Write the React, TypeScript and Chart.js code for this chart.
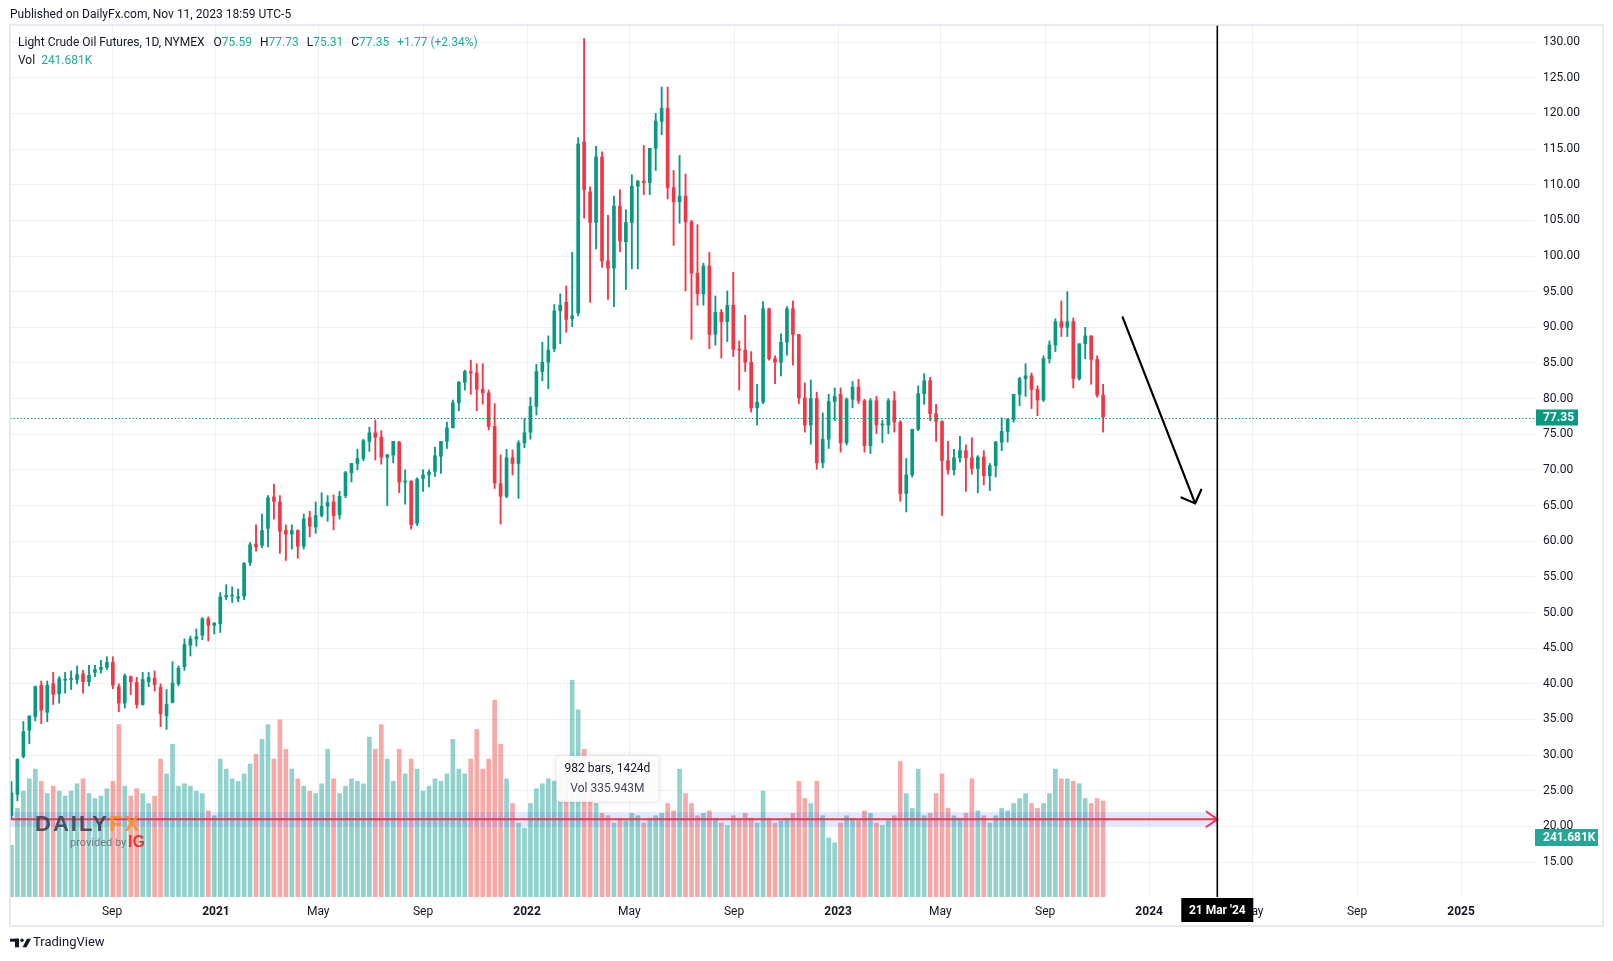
import React, { useEffect, useRef } from 'react';
import { Chart, registerables } from 'chart.js';

Chart.register(...registerables);

const FONT = 'Roboto, "Noto Sans", "DejaVu Sans", sans-serif';

// x values are day numbers counted from 2020-01-01
const FIRST_WEEK_DAY = 126; // Wed 6 May 2020, one candle per week
const X_MIN_DAY = 124.3;
const X_MAX_DAY = 1913.8;
const PRICE_MIN = 10.1;
const PRICE_MAX = 132.4;
const VOLUME_AXIS_MAX_K = 3542;

const xTickDays = [244, 366, 486, 609, 731, 851, 974, 1096, 1216, 1339, 1461, 1582, 1705, 1827];
const xTickLabels = ['Sep', '2021', 'May', 'Sep', '2022', 'May', 'Sep', '2023', 'May', 'Sep', '2024', 'May', 'Sep', '2025'];

// weekly [open, high, low, close]
const candles2020 = [
  [21.5, 26.3, 21.0, 24.7], [24.5, 29.5, 23.6, 29.4], [29.8, 34.7, 29.6, 33.3], [33.5, 35.5, 31.6, 35.5],
  [35.4, 39.7, 34.8, 39.6], [39.8, 40.4, 34.4, 36.3], [36.0, 40.4, 34.7, 39.8], [40.0, 41.6, 37.1, 38.5],
  [38.6, 41.0, 37.3, 40.7], [40.5, 41.6, 38.7, 40.6], [40.6, 41.8, 39.2, 40.6], [40.6, 42.5, 40.0, 41.3],
  [41.4, 41.9, 38.7, 40.3], [40.3, 42.6, 39.7, 41.2], [41.6, 42.6, 41.0, 42.0], [42.0, 43.3, 41.5, 42.3],
  [42.3, 43.8, 42.0, 43.0], [43.0, 43.8, 39.3, 39.8], [39.6, 40.0, 36.1, 37.3], [37.3, 41.4, 36.6, 41.1],
  [41.0, 41.1, 38.5, 40.3], [40.2, 40.9, 36.6, 37.1], [37.1, 41.6, 37.0, 40.6], [40.3, 41.6, 39.6, 40.9],
  [40.8, 41.8, 39.0, 39.9], [39.5, 40.0, 34.0, 35.8], [35.5, 39.2, 33.6, 37.1], [37.4, 43.1, 37.3, 40.1],
  [40.0, 42.5, 39.7, 42.2], [42.4, 46.3, 41.9, 45.5], [45.4, 46.7, 43.9, 46.3], [46.3, 47.7, 45.3, 46.6],
  [46.8, 49.3, 46.2, 49.1], [49.1, 49.4, 46.0, 48.2], [48.2, 48.6, 47.0, 48.5],
];
const candles2021 = [
  [48.4, 52.8, 47.2, 52.2], [52.2, 53.9, 51.8, 52.4], [52.3, 53.6, 51.4, 52.3], [52.0, 53.3, 51.5, 52.2],
  [52.3, 57.0, 51.8, 56.9], [57.0, 59.8, 56.6, 59.5], [59.6, 62.3, 58.6, 59.2], [59.4, 63.8, 59.1, 61.5],
  [61.8, 66.4, 59.2, 66.1], [66.2, 68.0, 63.1, 65.6], [65.5, 66.4, 58.3, 61.4], [61.5, 62.3, 57.3, 61.0],
  [61.0, 62.3, 58.9, 61.5], [61.5, 61.6, 57.6, 59.3], [59.3, 63.8, 58.9, 63.1], [63.3, 64.2, 60.6, 62.1],
  [62.0, 65.5, 61.1, 63.6], [63.6, 66.8, 63.4, 64.9], [64.9, 66.4, 62.8, 65.4], [65.5, 66.5, 61.6, 63.6],
  [63.7, 67.0, 63.1, 66.3], [66.4, 69.8, 66.1, 69.6], [69.6, 70.9, 68.3, 70.9], [70.9, 72.9, 70.0, 71.6],
  [71.6, 74.3, 71.3, 74.1], [74.0, 76.0, 72.6, 75.2], [75.2, 77.0, 71.4, 74.6], [74.6, 75.5, 70.8, 71.8],
  [71.8, 72.2, 65.0, 72.1], [72.1, 74.0, 71.0, 74.0], [73.9, 74.0, 66.8, 68.3], [68.3, 70.0, 65.2, 68.4],
  [68.4, 68.5, 61.7, 62.3], [62.5, 68.9, 62.2, 68.7], [68.8, 70.0, 67.0, 69.3], [69.3, 70.0, 67.6, 69.7],
  [69.8, 73.2, 69.1, 72.0], [71.9, 74.0, 69.5, 74.0], [74.0, 76.7, 73.0, 75.9], [75.9, 79.8, 75.9, 79.4],
  [79.4, 82.4, 78.3, 82.3], [82.3, 84.0, 81.2, 83.8], [83.8, 85.4, 80.6, 83.6], [83.6, 84.9, 78.3, 81.3],
  [81.3, 84.9, 79.2, 80.8], [80.8, 81.2, 75.6, 76.1], [76.1, 79.3, 67.4, 68.2], [68.1, 72.1, 62.4, 66.3],
  [66.3, 72.9, 66.1, 71.7], [71.7, 72.8, 69.3, 70.9], [70.9, 74.1, 66.0, 73.8], [73.8, 77.2, 73.1, 75.2],
];
const candles2022 = [
  [75.3, 80.2, 74.3, 78.9], [78.9, 84.8, 77.7, 83.8], [83.8, 87.9, 82.5, 85.1], [85.1, 88.8, 81.4, 86.8],
  [87.0, 93.2, 86.6, 92.3], [92.3, 94.7, 87.7, 93.1], [93.5, 95.8, 89.3, 91.1], [91.2, 100.5, 90.1, 91.6],
  [92.0, 116.6, 91.6, 115.7], [116.0, 130.5, 105.3, 109.3], [109.0, 109.7, 93.5, 104.7], [104.7, 115.4, 101.0, 113.9],
  [113.9, 114.6, 98.4, 99.3], [99.3, 105.7, 93.9, 98.3], [98.3, 108.4, 92.9, 107.0], [107.0, 109.3, 100.6, 102.1],
  [102.0, 106.5, 95.3, 104.7], [104.7, 111.4, 98.2, 109.8], [109.8, 110.6, 98.2, 110.5], [110.5, 115.5, 108.6, 110.3],
  [110.3, 115.1, 108.6, 115.1], [115.1, 120.0, 112.0, 118.9], [118.9, 123.7, 117.0, 120.7], [120.7, 123.7, 108.0, 109.6],
  [109.6, 112.0, 101.5, 107.6], [107.6, 114.1, 104.6, 108.4], [108.4, 111.5, 95.1, 104.8], [104.8, 105.0, 88.3, 97.6],
  [97.6, 104.4, 93.1, 94.7], [94.7, 99.0, 93.1, 98.6], [98.6, 100.5, 87.0, 89.0], [89.0, 94.4, 87.5, 92.1],
  [92.1, 92.5, 85.7, 90.8], [90.8, 95.1, 88.0, 93.1], [93.1, 97.7, 85.9, 86.9], [86.9, 88.1, 81.2, 86.8],
  [86.8, 91.7, 83.8, 85.1], [85.1, 86.6, 78.1, 78.7], [78.7, 82.0, 76.3, 79.5], [79.5, 93.6, 79.3, 92.6],
  [92.6, 92.7, 85.4, 85.6], [85.6, 86.0, 82.1, 85.1], [85.1, 89.1, 83.2, 87.9], [87.9, 92.9, 86.1, 92.6],
  [92.6, 93.7, 84.7, 89.0], [89.0, 89.0, 79.3, 80.1], [80.1, 82.2, 75.3, 76.3], [76.3, 82.6, 73.6, 80.0],
  [80.0, 80.9, 70.1, 71.0], [71.0, 78.0, 70.3, 74.3], [74.3, 80.6, 73.0, 79.6], [79.6, 81.5, 76.9, 80.3],
];
const candles2023 = [
  [80.6, 81.5, 72.5, 73.8], [73.8, 80.1, 73.5, 79.9], [79.9, 82.4, 78.7, 81.6], [81.6, 82.7, 79.3, 79.7],
  [79.7, 79.9, 72.5, 73.4], [73.4, 80.0, 72.3, 79.7], [79.7, 80.3, 75.1, 76.3], [76.3, 77.0, 73.8, 76.3],
  [76.3, 80.0, 75.1, 79.7], [79.7, 81.0, 75.3, 76.7], [76.7, 76.9, 65.6, 66.7], [66.7, 71.6, 64.1, 69.3],
  [69.3, 75.7, 69.0, 75.7], [75.7, 81.8, 75.5, 80.7], [80.7, 83.5, 79.2, 82.5], [82.5, 83.0, 76.9, 77.9],
  [77.9, 79.2, 74.0, 76.8], [76.8, 76.9, 63.6, 71.3], [71.3, 74.0, 69.4, 70.0], [70.0, 72.9, 69.3, 71.7],
  [71.7, 74.7, 71.1, 72.7], [72.7, 73.5, 67.0, 71.7], [71.7, 74.5, 69.4, 70.2], [70.2, 72.0, 66.8, 71.8],
  [71.8, 72.7, 67.9, 69.2], [69.2, 70.9, 67.1, 70.6], [70.6, 74.0, 69.0, 73.9], [73.9, 77.3, 72.7, 75.4],
  [75.4, 77.2, 73.9, 77.1], [77.1, 80.6, 76.7, 80.6], [80.6, 83.0, 79.0, 82.8], [82.8, 84.9, 80.3, 83.2],
  [83.2, 83.6, 78.6, 81.3], [81.3, 81.8, 77.6, 79.8], [79.8, 86.0, 79.6, 85.6], [85.6, 88.1, 85.0, 87.5],
  [87.5, 91.2, 86.6, 90.8], [90.8, 93.7, 88.7, 90.0], [90.0, 95.0, 88.7, 90.8], [90.8, 91.3, 81.5, 82.8],
  [82.8, 87.7, 82.6, 87.7], [87.7, 90.0, 85.6, 88.8], [88.8, 88.8, 82.0, 85.5], [85.5, 86.0, 80.2, 80.5],
  [80.5, 82.0, 75.3, 77.4],
];

// representative daily volume of each week, in thousands of contracts
const volumes2020 = [210, 360, 430, 480, 520, 470, 420, 450, 430, 410, 430, 460, 480, 420, 400, 410, 440, 470, 700, 450, 410, 440, 420, 380, 410, 560, 500, 620, 450, 460, 450, 430, 420, 350, 330];
const volumes2021 = [560, 520, 480, 470, 500, 540, 580, 640, 700, 560, 720, 600, 520, 480, 450, 430, 420, 460, 600, 480, 420, 450, 480, 470, 460, 650, 600, 700, 560, 470, 600, 500, 560, 520, 430, 450, 480, 470, 500, 640, 520, 500, 560, 680, 520, 560, 800, 620, 480, 380, 300, 280];
const volumes2022 = [380, 440, 460, 480, 470, 500, 520, 880, 760, 600, 420, 380, 340, 330, 300, 320, 310, 340, 330, 300, 320, 330, 340, 380, 350, 520, 420, 380, 330, 340, 350, 320, 300, 290, 330, 320, 340, 320, 300, 430, 320, 300, 310, 320, 340, 470, 400, 380, 470, 330, 240, 220];
const volumes2023 = [300, 330, 320, 310, 350, 340, 300, 290, 310, 330, 550, 420, 360, 520, 330, 340, 420, 500, 360, 330, 320, 340, 480, 350, 330, 300, 330, 360, 350, 380, 400, 420, 380, 360, 380, 420, 520, 480, 480, 470, 460, 400, 380, 400, 390];

const publishedText = 'Published on DailyFx.com, Nov 11, 2023 18:59 UTC-5';
const legendSymbol = 'Light Crude Oil Futures, 1D, NYMEX';
const legendOHLC = [['O', '75.59'], ['H', '77.73'], ['L', '75.31'], ['C', '77.35']];
const legendChange = '+1.77 (+2.34%)';
const legendVolume = '241.681K';
const lastPrice = 77.35;
const lastVolumeK = 241.681;
const markerDay = 1541;
const markerLabel = "21 Mar '24";
const trendArrowFrom = { day: 1430, price: 91.4 };
const trendArrowTo = { day: 1515, price: 65.3 };
const rangeBandPrices = [20.0, 22.0];
const rangeLinePrice = 21.0;
const measureLabelPos = { day: 825.4, price: 26.7 };
const measureLines = ['982 bars, 1424d', 'Vol 335.943M'];

const allCandles = [...candles2020, ...candles2021, ...candles2022, ...candles2023];
const allVolumes = [...volumes2020, ...volumes2021, ...volumes2022, ...volumes2023];
const weekDays = allCandles.map((_, i) => FIRST_WEEK_DAY + 7 * i);
const isUp = allCandles.map((c) => c[3] >= c[0]);

const UP = '#089981';
const DOWN = '#f23645';
const GRID = '#eef0f3';
const TEXT = '#131722';

const overlayPlugin = {
  id: 'tvOverlay',
  beforeDraw(chart: any) {
    const { ctx, width, height } = chart;
    ctx.save();
    ctx.fillStyle = '#ffffff';
    ctx.fillRect(0, 0, width, height);
    ctx.restore();
  },
  afterDatasetsDraw(chart: any) {
    const { ctx, chartArea } = chart;
    const xs = chart.scales.x;
    const ys = chart.scales.y;
    const L = chartArea.left;
    const R = chartArea.right;
    ctx.save();
    ctx.beginPath();
    ctx.rect(chartArea.left, chartArea.top, chartArea.right - chartArea.left, chartArea.bottom - chartArea.top);
    ctx.clip();

    // last price dotted line
    const py = Math.round(ys.getPixelForValue(lastPrice)) + 0.5;
    ctx.strokeStyle = UP;
    ctx.lineWidth = 1.2;
    ctx.setLineDash([1.5, 2]);
    ctx.beginPath();
    ctx.moveTo(L, py);
    ctx.lineTo(R, py);
    ctx.stroke();
    ctx.setLineDash([]);

    // range band + red line with arrow
    const mx = xs.getPixelForValue(markerDay);
    const bTop = ys.getPixelForValue(rangeBandPrices[1]);
    const bBot = ys.getPixelForValue(rangeBandPrices[0]);
    ctx.fillStyle = 'rgba(41, 98, 255, 0.15)';
    ctx.fillRect(L, bTop, mx - L, bBot - bTop);
    const ry = ys.getPixelForValue(rangeLinePrice);
    ctx.strokeStyle = '#f23645';
    ctx.lineWidth = 2;
    ctx.beginPath();
    ctx.moveTo(L, ry);
    ctx.lineTo(mx, ry);
    ctx.moveTo(mx - 11.5, ry - 8);
    ctx.lineTo(mx, ry);
    ctx.lineTo(mx - 11.5, ry + 8);
    ctx.stroke();

    // DailyFX watermark
    ctx.globalAlpha = 0.88;
    ctx.textBaseline = 'middle';
    ctx.textAlign = 'left';
    ctx.font = `bold 22px "Liberation Sans", ${FONT}`;
    (ctx as any).letterSpacing = '2px';
    const wx = L + 25;
    const wy = chartArea.bottom - 72;
    ctx.fillStyle = '#3b4150';
    ctx.fillText('DAILY', wx, wy);
    const dw = ctx.measureText('DAILY').width;
    ctx.fillStyle = '#f7931e';
    ctx.fillText('FX', wx + dw, wy);
    (ctx as any).letterSpacing = '0px';
    ctx.font = `11px ${FONT}`;
    ctx.fillStyle = '#6a6d78';
    ctx.fillText('provided by', L + 60, chartArea.bottom - 54);
    ctx.font = `bold 16px "Liberation Sans", ${FONT}`;
    ctx.fillStyle = '#e1251b';
    ctx.fillText('IG', L + 118, chartArea.bottom - 54);
    ctx.globalAlpha = 1;

    // vertical marker line
    ctx.strokeStyle = '#000000';
    ctx.lineWidth = 1.6;
    ctx.beginPath();
    ctx.moveTo(mx, chartArea.top);
    ctx.lineTo(mx, chartArea.bottom);
    ctx.stroke();

    // trend arrow
    const ax1 = xs.getPixelForValue(trendArrowFrom.day);
    const ay1 = ys.getPixelForValue(trendArrowFrom.price);
    const ax2 = xs.getPixelForValue(trendArrowTo.day);
    const ay2 = ys.getPixelForValue(trendArrowTo.price);
    const ang = Math.atan2(ay2 - ay1, ax2 - ax1);
    const hl = 15;
    ctx.lineWidth = 2.2;
    ctx.lineCap = 'round';
    ctx.beginPath();
    ctx.moveTo(ax1, ay1);
    ctx.lineTo(ax2, ay2);
    ctx.moveTo(ax2 + hl * Math.cos(ang + Math.PI - Math.PI / 4), ay2 + hl * Math.sin(ang + Math.PI - Math.PI / 4));
    ctx.lineTo(ax2, ay2);
    ctx.lineTo(ax2 + hl * Math.cos(ang + Math.PI + Math.PI / 4), ay2 + hl * Math.sin(ang + Math.PI + Math.PI / 4));
    ctx.stroke();

    // measurement label
    const lx = xs.getPixelForValue(measureLabelPos.day);
    const ly = ys.getPixelForValue(measureLabelPos.price);
    const bw = 102;
    const bh = 46;
    ctx.shadowColor = 'rgba(0,0,0,0.18)';
    ctx.shadowBlur = 5;
    ctx.fillStyle = 'rgba(255,255,255,0.93)';
    ctx.beginPath();
    (ctx as any).roundRect(lx - bw / 2, ly - bh / 2, bw, bh, 4);
    ctx.fill();
    ctx.shadowBlur = 0;
    ctx.shadowColor = 'transparent';
    ctx.textAlign = 'center';
    ctx.font = `12px ${FONT}`;
    ctx.fillStyle = TEXT;
    ctx.fillText(measureLines[0], lx, ly - 10);
    ctx.fillStyle = '#434651';
    ctx.fillText(measureLines[1], lx, ly + 10);
    ctx.restore();
  },
  afterDraw(chart: any) {
    const { ctx, chartArea } = chart;
    const xs = chart.scales.x;
    const ys = chart.scales.y;
    const vs = chart.scales.vol;
    ctx.save();

    // widget frame
    ctx.strokeStyle = '#e0e3eb';
    ctx.lineWidth = 1.5;
    ctx.strokeRect(10, 25, 1593, 901);

    ctx.textBaseline = 'middle';
    ctx.textAlign = 'left';

    // price label
    const py = ys.getPixelForValue(lastPrice);
    ctx.fillStyle = UP;
    ctx.fillRect(chartArea.right + 1, py - 8, 42, 16);
    ctx.font = `bold 12px ${FONT}`;
    ctx.fillStyle = '#ffffff';
    ctx.fillText(lastPrice.toFixed(2), chartArea.right + 8, py + 0.5);

    // volume label
    const vy = vs.getPixelForValue(lastVolumeK);
    ctx.fillStyle = '#26a69a';
    ctx.fillRect(chartArea.right, vy - 8.5, 63, 17);
    ctx.fillStyle = '#ffffff';
    ctx.fillText(legendVolume, chartArea.right + 8, vy + 0.5);

    // date marker label
    const mx = xs.getPixelForValue(markerDay);
    ctx.fillStyle = '#000000';
    ctx.fillRect(mx - 36, chartArea.bottom + 1, 72, 24);
    ctx.fillStyle = '#ffffff';
    ctx.textAlign = 'center';
    ctx.fillText(markerLabel, mx, chartArea.bottom + 14);

    // header
    ctx.textAlign = 'left';
    ctx.font = `12px ${FONT}`;
    ctx.fillStyle = TEXT;
    ctx.fillText(publishedText, 10, 15);

    // legend
    let x = 18;
    const y1 = 42.5;
    ctx.fillStyle = TEXT;
    ctx.fillText(legendSymbol, x, y1);
    x += ctx.measureText(legendSymbol).width + 9;
    legendOHLC.forEach(([k, v]) => {
      ctx.fillStyle = TEXT;
      ctx.fillText(k, x, y1);
      x += ctx.measureText(k).width;
      ctx.fillStyle = '#22ab94';
      ctx.fillText(v, x, y1);
      x += ctx.measureText(v).width + 8;
    });
    ctx.fillStyle = '#22ab94';
    ctx.fillText(legendChange, x, y1);
    ctx.fillStyle = TEXT;
    ctx.fillText('Vol', 18, 61);
    ctx.fillStyle = '#22ab94';
    ctx.fillText(legendVolume, 18 + ctx.measureText('Vol').width + 6, 61);

    // TradingView logo
    ctx.fillStyle = TEXT;
    ctx.fillRect(10, 938.7, 9, 3);
    ctx.fillRect(15, 938.7, 4, 8.6);
    ctx.beginPath();
    ctx.arc(22, 940.3, 1.7, 0, Math.PI * 2);
    ctx.fill();
    ctx.beginPath();
    ctx.moveTo(27, 938.7);
    ctx.lineTo(31, 938.7);
    ctx.lineTo(26.5, 947.3);
    ctx.lineTo(22.5, 947.3);
    ctx.closePath();
    ctx.fill();
    ctx.font = `13px ${FONT}`;
    ctx.fillText('TradingView', 33, 943);
    ctx.restore();
  },
};

export default function App() {
  const canvasRef = useRef<HTMLCanvasElement | null>(null);

  useEffect(() => {
    const canvas = canvasRef.current;
    if (!canvas) return;
    const wickColors = isUp.map((u) => (u ? UP : DOWN));
    const volColors = isUp.map((u) => (u ? 'rgba(38,166,154,0.5)' : 'rgba(239,83,80,0.5)'));
    const chart = new Chart(canvas, {
      type: 'bar',
      data: {
        datasets: [
          {
            label: 'Volume',
            yAxisID: 'vol',
            data: weekDays.map((d, i) => ({ x: d, y: allVolumes[i] })),
            backgroundColor: volColors,
            barThickness: 4,
            grouped: false,
            order: 3,
            borderWidth: 0,
          } as any,
          {
            label: 'Wick',
            yAxisID: 'y',
            data: weekDays.map((d, i) => ({ x: d, y: [allCandles[i][2], allCandles[i][1]] })),
            backgroundColor: wickColors,
            barThickness: 1.2,
            grouped: false,
            order: 2,
            borderWidth: 0,
          } as any,
          {
            label: 'Body',
            yAxisID: 'y',
            data: weekDays.map((d, i) => ({ x: d, y: [allCandles[i][0], allCandles[i][3]] })),
            backgroundColor: wickColors,
            barThickness: 3,
            minBarLength: 1,
            grouped: false,
            order: 1,
            borderWidth: 0,
          } as any,
        ],
      },
      options: {
        responsive: false,
        devicePixelRatio: 1,
        animation: false,
        events: [],
        layout: { padding: { left: 10, top: 25, right: 0, bottom: 0 } },
        plugins: { legend: { display: false }, tooltip: { enabled: false } },
        scales: {
          x: {
            type: 'linear',
            min: X_MIN_DAY,
            max: X_MAX_DAY,
            offset: false,
            border: { display: false },
            grid: { color: GRID, drawTicks: false, offset: false },
            afterBuildTicks: (scale: any) => {
              scale.ticks = xTickDays.map((v) => ({ value: v }));
            },
            afterFit: (scale: any) => {
              scale.height = 64;
            },
            ticks: {
              autoSkip: false,
              maxRotation: 0,
              padding: 8,
              color: TEXT,
              font: (c: any) => ({
                family: FONT,
                size: 12,
                weight: /^\d{4}$/.test(xTickLabels[c.index] || '') ? 'bold' : 'normal',
              }),
              callback: (_v: any, i: number) => xTickLabels[i],
            },
          } as any,
          y: {
            type: 'linear',
            position: 'right',
            min: PRICE_MIN,
            max: PRICE_MAX,
            border: { display: false },
            grid: { color: GRID, drawTicks: false },
            afterFit: (scale: any) => {
              scale.width = 78;
            },
            ticks: {
              stepSize: 5,
              includeBounds: false,
              padding: 8,
              color: TEXT,
              font: { family: FONT, size: 12 },
              callback: (v: any) => Number(v).toFixed(2),
            },
          } as any,
          vol: {
            type: 'linear',
            display: false,
            min: 0,
            max: VOLUME_AXIS_MAX_K,
          } as any,
        },
      },
      plugins: [overlayPlugin],
    });
    return () => chart.destroy();
  }, []);

  return (
    <div style={{ position: 'fixed', left: 0, top: 0, width: 1613, height: 961, background: '#ffffff' }}>
      <canvas ref={canvasRef} width={1613} height={961} style={{ display: 'block', width: 1613, height: 961 }} />
    </div>
  );
}
